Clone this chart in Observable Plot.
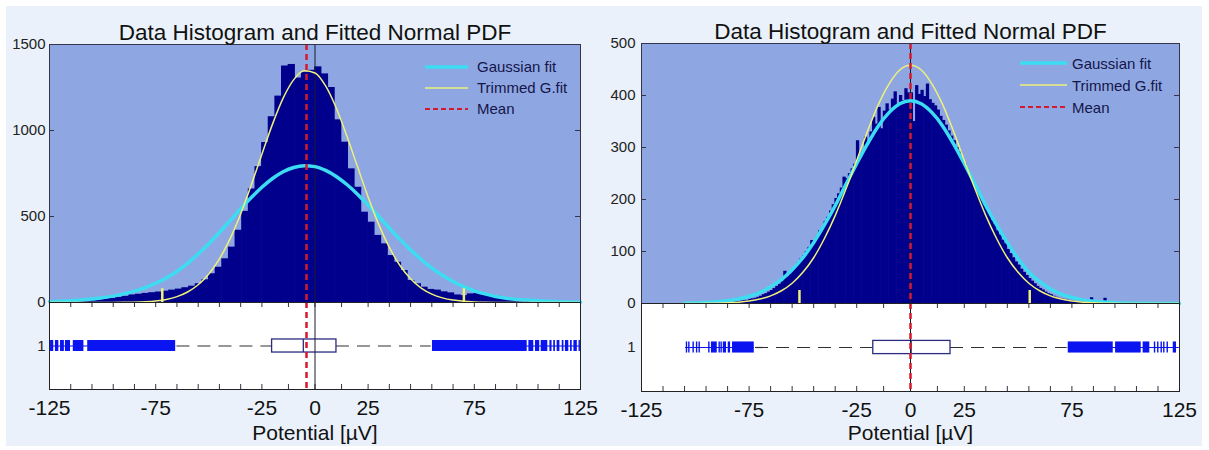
<!DOCTYPE html>
<html><head><meta charset="utf-8">
<script src="https://cdn.jsdelivr.net/npm/d3@7"></script>
<script src="https://cdn.jsdelivr.net/npm/@observablehq/plot@0.6"></script>
<style>
html,body{margin:0;padding:0;background:#fff;}
#fig{position:relative;width:1209px;height:450px;overflow:hidden;font-family:"Liberation Sans",Arial,sans-serif;}
#bg{position:absolute;left:6px;top:6px;width:1196px;height:440px;background:#eaf1fa;}
.p{position:absolute;}
.leg{position:absolute;font-size:15px;color:#15154a;}
.leg .row{display:flex;align-items:center;white-space:nowrap;}
</style></head>
<body><div id="fig"><div id="bg"></div></div>
<script>
// ---------- shared ----------
const xDomain = [-125, 125];
const xTickLabels = [-125, -75, -25, 0, 25, 75, 125];
const xMinorTicks = [-125,-115,-105,-95,-85,-75,-65,-55,-45,-35,-25,-12.5,0,12.5,25,35,45,55,65,75,85,95,105,115,125];
const titleText = "Data Histogram and Fitted Normal PDF";
const xLabelText = "Potential [µV]";
const legendLabels = ["Gaussian fit", "Trimmed G.fit", "Mean"];

// ---------- left panel ----------
const leftBinStart = -125, leftBinWidth = 3.125;
const leftCounts = [6,8,9,8,11,10,14,17,20,24,30,36,
  44,48,53,57,61,66,72,78,86,95,109,132,167,205,254,322,
  420,530,660,790,930,1080,1200,1375,1384,1305,1340,1350,
  1370,1329,1250,1062,932,777,670,525,467,390,341,273,234,186,128,109,
  89,76,72,62,56,44,40,50,52,48,44,36,28,22,16,12,9,7,6,5,4,3,3,2];
const leftFitX = [-125,-120,-115,-110,-105,-100,-95,-90,-85,-80,-75,-70,-65,-60,-55,-50,-45,-40,-35,-30,-25,-20,-15,-10,-5,0,5,10,15,20,25,30,35,40,45,50,55,60,65,70,75,80,85,90,95,100,105,110,115,120,125];
const leftGauss = [5,7,10,14,20,28,37,50,66,87,112,143,181,228,282,342,407,475,544,610,670,721,760,785,795,790,768,733,686,630,566,500,432,367,306,250,200,158,122,92,68,50,35,25,18,14,10,7,5,3,2];
const leftTrim = [0,0,0,0,0,0.2,0.4,1,2,4.6,9.4,18,34,61,103,166,254,370,515,683,862,1037,1188,1296,1347,1334,1259,1131,968,790,614,454,320,215,138,84,49,27,14,7,3.4,1.5,0.6,0.2,0,0,0,0,0,0,0];
const leftMean = -4;
const leftTrimLimits = [-71.9, 70.1];
const leftYTicks = [0, 500, 1000, 1500];
const leftBoxStats = [-65, -20.2, -5.5, 10.1, 54.7]; // whiskerLo, q1, median, q3, whiskerHi
const leftOutlierBands = [[-124.5,-123],[-122.2,-120.6],[-119.8,-118],[-117.5,-115.1],[-113.8,-108.8],[-107,-65.6],
  [55.3,99.9],[100.7,103],[103.8,105.8],[106.5,109.6],[110.6,111.6],[112.4,113.2],[114,115.3],[116.4,117.2],[117.9,119.5],[120.3,121.1],[121.9,123.5]];
const leftOutlierPoints = [124.4];
const leftOutlierSpans = [[-125, -65.6], [55.3, 125.5]];

// ---------- right panel ----------
const rightBinStart = -100, rightBinWidth = 1.25;
const rightCounts = [
  0,1,0,1,0,1,1,0,
  1,2,1,2,3,2,3,4,
  4,5,6,6,8,9,10,12,
  14,17,19,22,25,29,33,37,
  42,62,52,57,63,70,78,86,
  92,100,108,121,116,128,140,146,
  158,166,178,190,202,211,222,243,
  240,250,259,268,313,280,292,320,
  305,330,358,345,377,336,370,384,
  372,393,407,378,400,390,413,405,
  405,350,419,402,410,398,422,392,
  385,380,372,360,352,343,332,322,
  313,300,292,278,268,255,244,236,
  225,212,203,190,182,172,160,152,
  140,132,122,115,104,96,88,80,
  74,66,60,54,48,43,38,33,
  29,26,22,19,17,14,12,10,
  9,8,7,6,5,4,4,3,
  3,2,3,11,1,2,1,1,
  10,1,0,1,0,0,0,0];
const rightFitX = [-105,-100,-95,-90,-85,-80,-75,-70,-65,-60,-55,-50,-45,-40,-35,-30,-25,-20,-15,-10,-5,0,5,10,15,20,25,30,35,40,45,50,55,60,65,70,75,80,85,90,95,100,105,110,115,120,125];
const rightGauss = [0.6,1.0,1.8,3.2,5.3,8.7,13.9,21,32,46,65,88,117,151,188,229,269,307,341,367,384,390,384,367,341,307,269,229,188,151,117,86,60,42,28,18,11.5,7,4.5,2.7,1.6,0.9,0.5,0.3,0.1,0,0];
const rightTrim = [0,0.1,0.3,0.6,1.3,2.5,4.7,8.5,14.7,24.5,39,60,88,125,169,220,275,331,382,422,449,458,449,422,382,331,275,220,169,125,88,60,39,24.5,14.7,8.5,4.7,2.5,1.3,0.6,0.3,0.1,0,0,0,0,0];
const rightMean = 0;
const rightTrimLimits = [-51.6, 55.4];
const rightYTicks = [0, 100, 200, 300, 400, 500];
const rightBoxStats = [-72, -17.3, 0.3, 18.6, 72.8];
const rightOutlierBands = [[-92.5,-89.8],[-87,-85.5],[-84.7,-83.6],[-82.7,-72.6],[73.3,94.2],[95.3,107.2],[108.1,111.2],[122.1,123.6]];
const rightOutlierPoints = [-104.1,-103,-101,-99.4,-98.2,-93.7,-88.9,-88,113.4,114.9,116.5,117.7,119.3];
const rightOutlierSpans = [[-104.5, -72.6], [73.3, 124.9]];

// ---------- styles ----------
const histBg = "#8ea7e2", barColor = "#00008c", cyan = "#3cdcf2", yellow = "#eef07a",
      red = "#d41a2c", axisColor = "#34344a", boxColor = "#2b2b80", outColor = "#0a14f0", textColor = "#111";
const fontFamily = "Liberation Sans, Arial, sans-serif";

function panel(cfg) {
  const fig = document.getElementById("fig");
  const bins = cfg.counts.map((c, i) => ({x1: cfg.binStart + i * cfg.binWidth, x2: cfg.binStart + (i + 1) * cfg.binWidth, y: c}));
  const gauss = cfg.fitX.map((x, i) => ({x, y: cfg.gauss[i]}));
  const trim = cfg.fitX.map((x, i) => ({x, y: cfg.trim[i]}));
  const fw = cfg.width - cfg.ml - cfg.mr;
  const histH = cfg.histBottom + 1;
  const hist = Plot.plot({
    width: cfg.width, height: histH,
    marginLeft: cfg.ml, marginRight: cfg.mr, marginTop: cfg.histTop, marginBottom: 1,
    style: {background: "transparent", overflow: "visible", fontFamily},
    x: {domain: xDomain, axis: null}, y: {domain: cfg.yDomain},
    marks: [
      Plot.frame({fill: histBg, stroke: null}),
      Plot.rectY(bins, {x1: "x1", x2: "x2", y: "y", fill: barColor, insetLeft: -0.3, insetRight: -0.3}),
      Plot.ruleX([0], {stroke: "#1a1a2a", strokeWidth: 1}),
      Plot.line(gauss, {x: "x", y: "y", stroke: cyan, strokeWidth: 3.5, curve: "monotone-x"}),
      Plot.line(trim, {x: "x", y: "y", stroke: yellow, strokeWidth: 1.5, curve: "monotone-x"}),
      Plot.ruleX(cfg.trimLimits, {x: d => d, y1: 0, y2: cfg.trimTickH, stroke: yellow, strokeWidth: 2.5}),
      Plot.ruleX([cfg.mean], {x: d => d, stroke: red, strokeWidth: 2.5, strokeDasharray: "6,4"}),
      Plot.tickY(cfg.yTicks, {y: d => d, insetRight: fw - 5, stroke: axisColor}),
      Plot.tickY(cfg.yTicks, {y: d => d, insetLeft: fw - 5, stroke: axisColor}),
      Plot.axisY({ticks: cfg.yTicks, tickSize: 0, tickPadding: cfg.yPad, fontSize: 15, fill: "#222", tickFormat: d => String(d), label: null}),
      Plot.frame({stroke: axisColor, strokeWidth: 1}),
      Plot.text([titleText], {text: d => d, frameAnchor: "top", dy: -20, fontSize: 22.5, fill: textColor})
    ]
  });
  hist.classList.add("p");
  hist.style.left = cfg.left + "px"; hist.style.top = "0px";
  fig.appendChild(hist);

  const [wLo, q1, med, q3, wHi] = cfg.box;
  const fh = cfg.boxBottom - cfg.boxTop;
  const boxSvgTop = cfg.boxTop - 2;
  const boxH = 450 - boxSvgTop;
  const box = Plot.plot({
    width: cfg.width, height: boxH,
    marginLeft: cfg.ml, marginRight: cfg.mr, marginTop: 2, marginBottom: boxH - 2 - fh,
    style: {background: "transparent", overflow: "visible", fontFamily},
    x: {domain: xDomain}, y: {domain: [0.5, 1.5]},
    marks: [
      Plot.frame({fill: "white", stroke: null}),
      Plot.ruleX(xMinorTicks, {x: d => d, insetBottom: fh - 5, stroke: axisColor}),
      Plot.ruleX(xMinorTicks, {x: d => d, insetTop: fh - 5, stroke: axisColor}),
      Plot.ruleY([{x1: wLo, x2: q1}, {x1: q3, x2: wHi}], {y: 1, x1: "x1", x2: "x2", stroke: "#303030", strokeWidth: 1.2, strokeDasharray: "13,8"}),
      Plot.ruleY(cfg.outSpans, {y: 1, x1: d => d[0], x2: d => d[1], stroke: outColor, strokeWidth: 1.2}),
      Plot.rect(cfg.outBands, {x1: d => d[0], x2: d => d[1], y1: 0.937, y2: 1.063, fill: outColor}),
      Plot.ruleX(cfg.outPoints, {x: d => d, y1: 0.937, y2: 1.063, stroke: outColor, strokeWidth: 1.4}),
      Plot.rect([{x1: q1, x2: q3}], {x1: "x1", x2: "x2", y1: 0.925, y2: 1.075, fill: "white", stroke: boxColor, strokeWidth: 1.3}),
      Plot.ruleX([med], {x: d => d, y1: 0.925, y2: 1.075, stroke: boxColor, strokeWidth: 1.3}),
      Plot.ruleX([0], {stroke: "#1a1a2a", strokeWidth: 1}),
      Plot.ruleX([cfg.mean], {x: d => d, stroke: red, strokeWidth: 2.5, strokeDasharray: "6,4"}),
      Plot.axisY({ticks: [1], tickSize: 0, tickPadding: cfg.yPad, fontSize: 15, fill: "#222", tickFormat: d => String(d), label: null}),
      Plot.axisX({ticks: xTickLabels, tickSize: 0, tickPadding: 11, fontSize: 21, fill: "#111", tickFormat: d => String(d), label: null}),
      Plot.frame({stroke: "#222", strokeWidth: 1}),
      Plot.text([xLabelText], {text: d => d, frameAnchor: "bottom", dy: cfg.xLabelDy, fontSize: 21, fill: textColor})
    ]
  });
  box.classList.add("p");
  box.style.left = cfg.left + "px"; box.style.top = boxSvgTop + "px";
  fig.appendChild(box);

  // legend
  const leg = document.createElement("div");
  leg.className = "leg";
  leg.style.left = cfg.legLeft + "px"; leg.style.top = cfg.legTop + "px";
  const styles = [
    {stroke: cyan, w: 3.5, dash: ""},
    {stroke: yellow, w: 1.5, dash: ""},
    {stroke: red, w: 2.2, dash: "5,3"}
  ];
  legendLabels.forEach((lab, i) => {
    const row = document.createElement("div");
    row.className = "row";
    row.style.height = cfg.legRow + "px";
    const s = styles[i];
    row.innerHTML = `<svg width="${cfg.legLine}" height="10" style="margin-right:${cfg.legGap}px"><line x1="0" x2="${cfg.legLine}" y1="5" y2="5" stroke="${s.stroke}" stroke-width="${s.w}" stroke-dasharray="${s.dash}"/></svg><span>${lab}</span>`;
    leg.appendChild(row);
  });
  fig.appendChild(leg);
}

panel({
  left: 0, width: 600, ml: 49, mr: 20, histTop: 44, histBottom: 302, boxTop: 302, boxBottom: 389,
  yDomain: [0, 1500], yTicks: leftYTicks, yPad: 4,
  binStart: leftBinStart, binWidth: leftBinWidth, counts: leftCounts,
  fitX: leftFitX, gauss: leftGauss, trim: leftTrim, mean: leftMean,
  trimLimits: leftTrimLimits, trimTickH: 80,
  box: leftBoxStats, outBands: leftOutlierBands, outPoints: leftOutlierPoints, outSpans: leftOutlierSpans,
  xLabelDy: 50, legLeft: 425, legTop: 56, legRow: 21, legLine: 43, legGap: 9
});
panel({
  left: 600, width: 609, ml: 41, mr: 30, histTop: 43, histBottom: 303, boxTop: 303, boxBottom: 391,
  yDomain: [0, 500], yTicks: rightYTicks, yPad: 6,
  binStart: rightBinStart, binWidth: rightBinWidth, counts: rightCounts,
  fitX: rightFitX, gauss: rightGauss, trim: rightTrim, mean: rightMean,
  trimLimits: rightTrimLimits, trimTickH: 25,
  box: rightBoxStats, outBands: rightOutlierBands, outPoints: rightOutlierPoints, outSpans: rightOutlierSpans,
  xLabelDy: 48, legLeft: 1020, legTop: 52, legRow: 22, legLine: 47, legGap: 5
});
</script>
</body></html>
